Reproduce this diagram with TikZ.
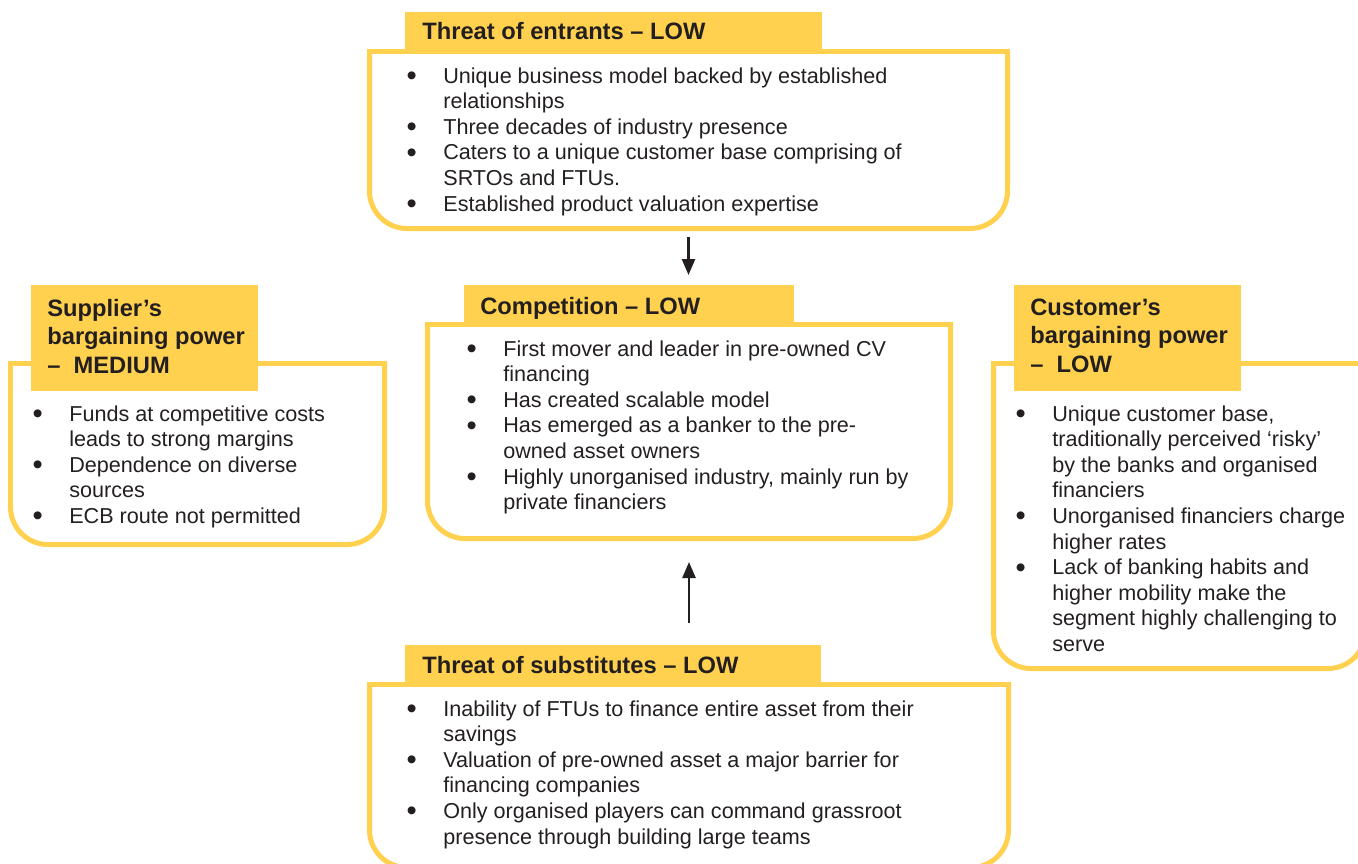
\documentclass[tikz,border=0pt]{standalone}
\usepackage{fontspec}
\setmainfont{Liberation Sans}
\usepackage{xcolor}
\usepackage{tikz}
\usetikzlibrary{arrows.meta,positioning,fit,calc}
\definecolor{pyellow}{HTML}{FFD14F}
\definecolor{pdark}{HTML}{231F20}
\newlength{\bulgap}
\setlength{\bulgap}{0.736cm}
\newcommand{\bul}{\strut\makebox[\bulgap][l]{\raisebox{-1.4pt}{\scalebox{1.35}{\textbullet}}}}
\newcommand{\cont}{\hspace*{\bulgap}}
\newcommand{\rimbox}[1]{%
  \draw[rim, rounded corners=0.75cm] (#1.north west) -- (#1.south west) -- (#1.south east) -- (#1.north east);
  \draw[rim] (#1.north west) -- (#1.north east);}

\begin{document}
\begin{tikzpicture}[
    x=0.02cm, y=-0.02cm,
    >={Triangle[length=0.32cm, width=0.26cm]},
    area/.style={inner sep=0pt, outer sep=0pt},
    rim/.style={draw=pyellow, line width=0.1cm, line cap=rect},
    headbox/.style={fill=pyellow, inner sep=0pt, outer sep=0pt},
    headtxt/.style={anchor=north west, inner sep=0pt, align=left, text=pdark, font=\fontsize{13.49pt}{16.22pt}\selectfont\bfseries, execute at begin node=\strut},
    points/.style={anchor=north west, inner sep=0pt, align=left, text=pdark, font=\fontsize{12.29pt}{14.57pt}\selectfont},
    link/.style={->, draw=pdark, line width=0.05cm},
]
\useasboundingbox (0,0) rectangle (1358,863);
\clip (0,0) rectangle (1358,863);

% Box areas
\node[area, fit={(369.5,51.5) (1007.5,228.5)}] (entBody) {};
\node[area, fit={(427.5,324.5) (950.5,538.5)}] (compBody) {};
\node[area, fit={(10.5,363.5) (384.5,544.5)}] (supBody) {};
\node[area, fit={(993.5,363.5) (1365.5,668.5)}] (custBody) {};
\node[area, fit={(369.5,684.5) (1008.5,867.5)}] (subBody) {};

% Outlines
\rimbox{entBody}
\rimbox{compBody}
\rimbox{supBody}
\rimbox{custBody}
\rimbox{subBody}

% Headers
\node[headbox, fit={(405,12) (822,50)}] (entHead) {};
\node[headbox, fit={(464,285) (794,323)}] (compHead) {};
\node[headbox, fit={(31,285) (258,391)}] (supHead) {};
\node[headbox, fit={(1014,285) (1241,391)}] (custHead) {};
\node[headbox, fit={(405,645) (821,683)}] (subHead) {};

\node[headtxt] (entTitle) at (422,19.5) {Threat of entrants – LOW};
\node[headtxt] (compTitle) at (480,294.5) {Competition – LOW};
\node[headtxt] (supTitle) at (47,298.5) {Supplier’s\\bargaining power\\– \ MEDIUM};
\node[headtxt] (custTitle) at (1030,298.5) {Customer’s\\bargaining power\\– \ LOW};
\node[headtxt] (subTitle) at (422,653.5) {Threat of substitutes – LOW};

% Bullet texts
\node[points] (entPts) at (406.2,64.8) {\bul Unique business model backed by established\\
  \cont relationships\\
  \bul Three decades of industry presence\\
  \bul Caters to a unique customer base comprising of\\
  \cont SRTOs and FTUs.\\
  \bul Established product valuation expertise};
\node[points] (compPts) at (466.2,337.8) {\bul First mover and leader in pre-owned CV\\
  \cont financing\\
  \bul Has created scalable model\\
  \bul Has emerged as a banker to the pre-\\
  \cont owned asset owners\\
  \bul Highly unorganised industry, mainly run by\\
  \cont private financiers};
\node[points] (supPts) at (32.2,402.8) {\bul Funds at competitive costs\\
  \cont leads to strong margins\\
  \bul Dependence on diverse\\
  \cont sources\\
  \bul ECB route not permitted};
\node[points] (custPts) at (1015.2,402.8) {\bul Unique customer base,\\
  \cont traditionally perceived ‘risky’\\
  \cont by the banks and organised\\
  \cont financiers\\
  \bul Unorganised financiers charge\\
  \cont higher rates\\
  \bul Lack of banking habits and\\
  \cont higher mobility make the\\
  \cont segment highly challenging to\\
  \cont serve};
\node[points] (subPts) at (406.2,697.8) {\bul Inability of FTUs to finance entire asset from their\\
  \cont savings\\
  \bul Valuation of pre-owned asset a major barrier for\\
  \cont financing companies\\
  \bul Only organised players can command grassroot\\
  \cont presence through building large teams};

% Arrows
\draw[link, shorten <=0.17cm, shorten >=0.2cm] (entBody.south) -- (entBody.south |- compHead.north);
\draw[link, shorten <=1.23cm, shorten >=0.47cm] (subBody.north) -- (subBody.north |- compBody.south);

\end{tikzpicture}
\end{document}
